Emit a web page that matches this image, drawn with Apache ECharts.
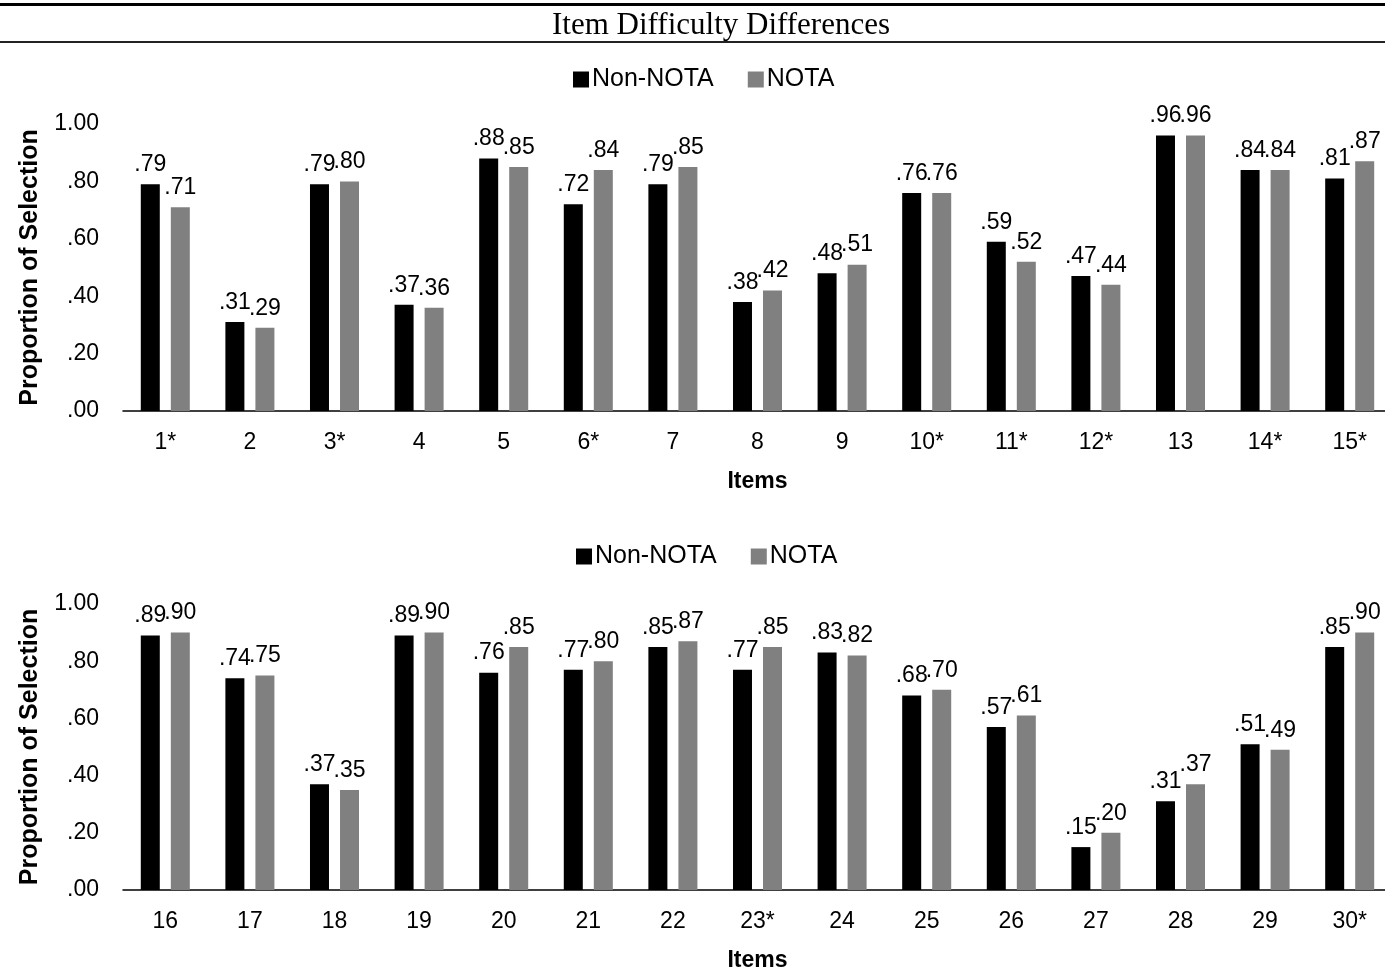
<!DOCTYPE html>
<html>
<head>
<meta charset="utf-8">
<script src="https://cdn.jsdelivr.net/npm/echarts@6/dist/echarts.min.js"></script>
<style>
html,body{margin:0;padding:0;background:#fff;}
#chart{width:1385px;height:971px;}
</style>
</head>
<body>
<div id="chart"></div>
<script>
var titleText = 'Item Difficulty Differences';
var seriesNames = ['Non-NOTA', 'NOTA'];
var itemsTop = ['1*','2','3*','4','5','6*','7','8','9','10*','11*','12*','13','14*','15*'];
var nonNotaTop = [0.79,0.31,0.79,0.37,0.88,0.72,0.79,0.38,0.48,0.76,0.59,0.47,0.96,0.84,0.81];
var notaTop    = [0.71,0.29,0.80,0.36,0.85,0.84,0.85,0.42,0.51,0.76,0.52,0.44,0.96,0.84,0.87];
var itemsBottom = ['16','17','18','19','20','21','22','23*','24','25','26','27','28','29','30*'];
var nonNotaBottom = [0.89,0.74,0.37,0.89,0.76,0.77,0.85,0.77,0.83,0.68,0.57,0.15,0.31,0.51,0.85];
var notaBottom    = [0.90,0.75,0.35,0.90,0.85,0.80,0.87,0.85,0.82,0.70,0.61,0.20,0.37,0.49,0.90];
var yTicks = [0, 0.2, 0.4, 0.6, 0.8, 1.0];

function fmt(v){ return Number(v).toFixed(2).replace(/^0/, ''); }

var FONT = 'Arial, "Liberation Sans", sans-serif';
var chart = echarts.init(document.getElementById('chart'), null, {renderer:'canvas'});

function xAxisCfg(gi, cats){
  return {
    type:'category', gridIndex:gi, data:cats,
    axisLine:{show:true, lineStyle:{color:'#000', width:1.5}},
    axisTick:{show:false},
    axisLabel:{color:'#000', fontSize:23, fontFamily:FONT, margin:20},
    name:'Items', nameLocation:'middle', nameGap:59, nameMoveOverlap:false,
    nameTextStyle:{color:'#000', fontSize:23, fontWeight:'bold', fontFamily:FONT}
  };
}
function yAxisCfg(gi){
  return {
    type:'value', gridIndex:gi, min:yTicks[0], max:yTicks[yTicks.length-1], interval:yTicks[1]-yTicks[0],
    axisLine:{show:false}, axisTick:{show:false}, splitLine:{show:false},
    axisLabel:{color:'#000', fontSize:23, fontFamily:FONT, margin:24, formatter:fmt},
    name:'Proportion of Selection', nameLocation:'middle', nameGap:80, nameRotate:90, nameMoveOverlap:false,
    nameTextStyle:{color:'#000', fontSize:25, fontWeight:'bold', fontFamily:FONT}
  };
}
function barSeries(name, data, gi, color){
  return {
    type:'bar', name:name, xAxisIndex:gi, yAxisIndex:gi, data:data,
    barWidth:19, barGap:'58%',
    itemStyle:{color:color},
    label:{show:true, position:'top', distance:8, color:'#000', fontSize:23, fontFamily:FONT, formatter:function(p){return fmt(p.value);}}
  };
}
function legendCfg(left, top){
  return {
    left:left, top:top, padding:0, itemWidth:16, itemHeight:16, itemGap:34,
    icon:'rect',
    data:seriesNames.slice(),
    textStyle:{color:'#000', fontSize:25, fontFamily:FONT, padding:[0,0,0,-2]},
    selectedMode:false
  };
}

var option = {
  animation:false,
  backgroundColor:'#fff',
  graphic:[
    {type:'rect', shape:{x:0, y:3, width:1385, height:3}, style:{fill:'#000'}},
    {type:'rect', shape:{x:0, y:41, width:1385, height:2}, style:{fill:'#222'}},
    {type:'text', x:721, y:26, style:{text:titleText, textAlign:'center', textVerticalAlign:'middle', font:'31px "Liberation Serif", "Times New Roman", serif', fill:'#000'}}
  ],
  legend:[legendCfg(573, 67), legendCfg(576, 544)],
  grid:[
    {left:123, top:124, width:1269, height:287, containLabel:false, outerBoundsMode:'none'},
    {left:123, top:604, width:1269, height:286, containLabel:false, outerBoundsMode:'none'}
  ],
  xAxis:[xAxisCfg(0, itemsTop), xAxisCfg(1, itemsBottom)],
  yAxis:[yAxisCfg(0), yAxisCfg(1)],
  series:[
    barSeries(seriesNames[0], nonNotaTop, 0, '#000000'),
    barSeries(seriesNames[1], notaTop, 0, '#808080'),
    barSeries(seriesNames[0], nonNotaBottom, 1, '#000000'),
    barSeries(seriesNames[1], notaBottom, 1, '#808080')
  ]
};
chart.setOption(option);
</script>
</body>
</html>
